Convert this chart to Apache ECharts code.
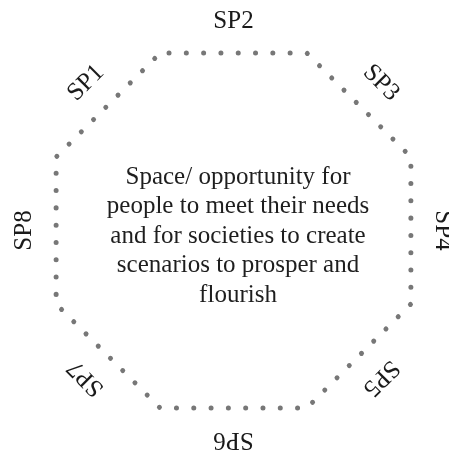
<!DOCTYPE html>
<html><head><meta charset="utf-8">
<script src="https://cdn.jsdelivr.net/npm/echarts@6/dist/echarts.min.js"></script>
<style>html,body{margin:0;padding:0;background:#fff}#c{width:449px;height:462px}</style>
</head><body><div id="c"></div>
<script>
// Side labels of the octagon and the angle (degrees, counter-clockwise from east) of each side
const sideLabels = ['SP1', 'SP2', 'SP3', 'SP4', 'SP5', 'SP6', 'SP7', 'SP8'];
const sideAngles = [135, 90, 45, 0, 315, 270, 225, 180];
// Octagon corners (degrees), path closed back to the first corner
const cornerAngles = [112.5, 67.5, 22.5, 337.5, 292.5, 247.5, 202.5, 157.5, 112.5];
// Centre text
const centerLines = [
  'Space/ opportunity for',
  'people to meet their needs',
  'and for societies to create',
  'scenarios to prosper and',
  'flourish'
];

const OUTLINE_R = 1;      // corners on the unit circle
const LABEL_R = 1.087;    // labels slightly outside
const serif = '"Liberation Serif", "DejaVu Serif", serif';

const chart = echarts.init(document.getElementById('c'), null, {renderer: 'canvas'});
chart.setOption({
  animation: false,
  backgroundColor: '#ffffff',
  polar: { center: [233.5, 230.5], radius: 211.2 },
  angleAxis: {
    type: 'value', min: 0, max: 360, startAngle: 0, clockwise: false,
    show: false, axisLine: {show: false}, axisTick: {show: false},
    axisLabel: {show: false}, splitLine: {show: false}
  },
  radiusAxis: {
    type: 'value', min: 0, max: 1.1, show: false,
    axisLine: {show: false}, axisTick: {show: false},
    axisLabel: {show: false}, splitLine: {show: false}
  },
  series: [
    {
      type: 'line',
      coordinateSystem: 'polar',
      data: cornerAngles.map(a => [OUTLINE_R, a]),
      symbol: 'none',
      smooth: false,
      lineStyle: {
        color: '#777777', width: 5,
        type: [0.01, 17.29], dashOffset: 8.3, cap: 'round'
      },
      silent: true
    },
    {
      type: 'scatter',
      coordinateSystem: 'polar',
      symbolSize: 2,
      itemStyle: {color: 'rgba(0,0,0,0)'},
      labelLayout: {hideOverlap: false},
      data: sideLabels.map((name, i) => ({
        name: name,
        value: [LABEL_R, sideAngles[i]],
        label: {rotate: sideAngles[i] - 90}
      })),
      label: {
        show: true, position: 'inside',
        formatter: p => p.name,
        color: '#1a1a1a', fontFamily: serif, fontSize: 25,
        textBorderWidth: 0, textBorderColor: 'transparent', opacity: 1
      },
      emphasis: {disabled: true},
      silent: true
    }
  ],
  graphic: [{
    type: 'text',
    x: 238, y: 236,
    silent: true,
    style: {
      text: centerLines.join('\n'),
      align: 'center', verticalAlign: 'middle',
      fill: '#1e1e1e',
      font: '25px ' + serif,
      lineHeight: 29.5
    }
  }]
});
</script>
</body></html>
